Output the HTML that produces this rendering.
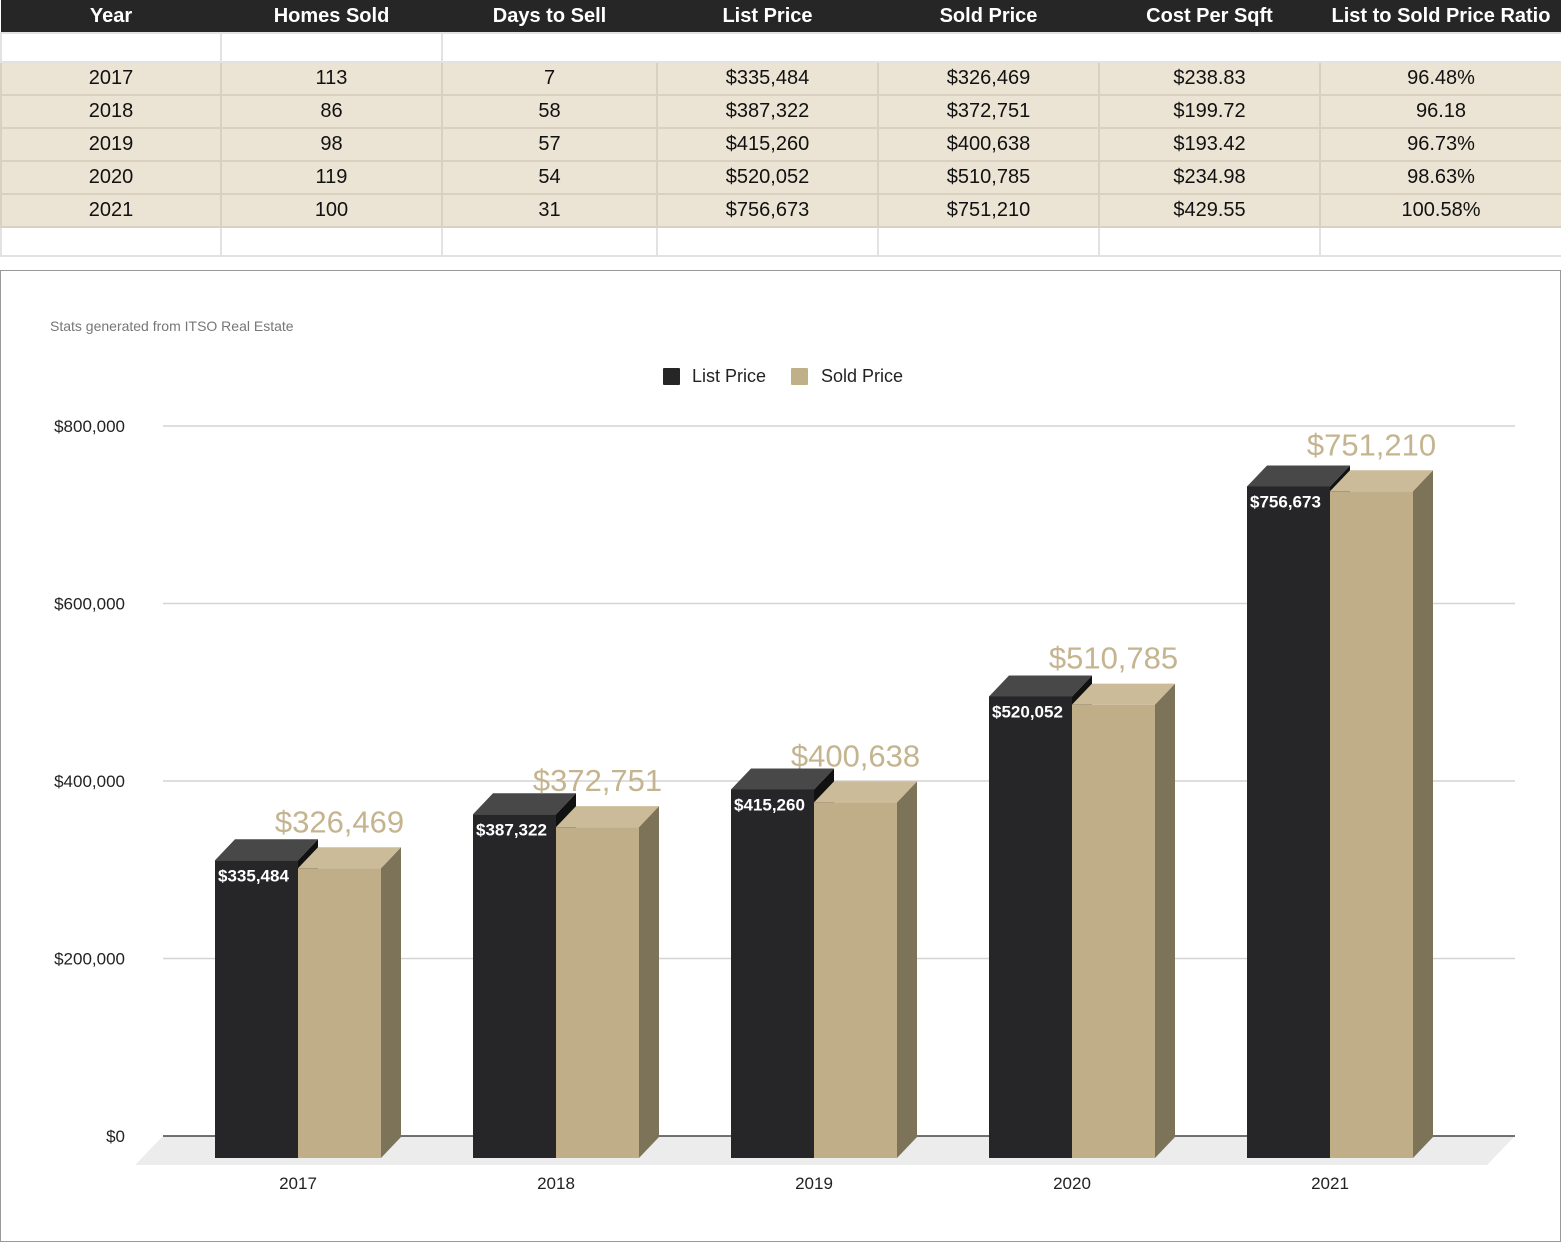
<!DOCTYPE html>
<html><head><meta charset="utf-8">
<style>
body{margin:0;width:1561px;height:1242px;background:#fff;font-family:"Liberation Sans",Arial,sans-serif;overflow:hidden;position:relative}
table{border-collapse:collapse;position:absolute;left:0;top:0;width:1561px;table-layout:fixed;font-family:"Liberation Sans Narrow","Liberation Sans",sans-serif}
th{background:#262626;color:#fff;font-weight:bold;font-size:20px;height:32px;padding:0;text-align:center}
td{font-size:20px;color:#111;text-align:center;padding:0;border:2px solid #d9d0bf;height:31px}
tr.d td{background:#ebe3d3;height:31px}
tr.e td{background:#fff;border-color:#e2e2e2;height:27px}
#chart{position:absolute;left:0;top:270px;width:1559px;height:970px;border:1px solid #999}
</style></head><body>
<table>
<colgroup><col style="width:220px"><col style="width:221px"><col style="width:215px"><col style="width:221px"><col style="width:221px"><col style="width:221px"><col style="width:242px"></colgroup>
<tr><th>Year</th><th>Homes Sold</th><th>Days to Sell</th><th>List Price</th><th>Sold Price</th><th>Cost Per Sqft</th><th>List to Sold Price Ratio</th></tr>
<tr class="e"><td></td><td></td><td colspan="5" style="border-right:none"></td></tr>
<tr class="d"><td>2017</td><td>113</td><td>7</td><td>$335,484</td><td>$326,469</td><td>$238.83</td><td>96.48%</td></tr>
<tr class="d"><td>2018</td><td>86</td><td>58</td><td>$387,322</td><td>$372,751</td><td>$199.72</td><td>96.18</td></tr>
<tr class="d"><td>2019</td><td>98</td><td>57</td><td>$415,260</td><td>$400,638</td><td>$193.42</td><td>96.73%</td></tr>
<tr class="d"><td>2020</td><td>119</td><td>54</td><td>$520,052</td><td>$510,785</td><td>$234.98</td><td>98.63%</td></tr>
<tr class="d"><td>2021</td><td>100</td><td>31</td><td>$756,673</td><td>$751,210</td><td>$429.55</td><td>100.58%</td></tr>
<tr class="e"><td></td><td></td><td></td><td></td><td></td><td></td><td></td></tr>
</table>
<div id="chart"></div>
<svg id="svg" width="1561" height="1242" style="position:absolute;left:0;top:0"></svg>
<script>
const years=["2017","2018","2019","2020","2021"];
const listPrices=[335484,387322,415260,520052,756673];
const soldPrices=[326469,372751,400638,510785,751210];
const ticks=[0,200000,400000,600000,800000];
const tickLabels=["$0","$200,000","$400,000","$600,000","$800,000"];

const NS="http://www.w3.org/2000/svg";
const svg=document.getElementById('svg');
const yBack=v=>1136-v*(710/800000);
const FRONT=22, DX=20, BW=83;
const xc=i=>298+i*258;
function mk(tag,attrs,text){const e=document.createElementNS(NS,tag);for(const k in attrs)e.setAttribute(k,attrs[k]);if(text!==undefined)e.textContent=text;svg.appendChild(e);return e;}
function fmt(v){return "$"+v.toLocaleString("en-US");}

let t=mk('text',{x:50,y:331,'font-size':14,fill:'#777'},'Stats generated from ITSO Real Estate');



// legend
let l1=mk('rect',{x:663,y:368,width:17,height:17,fill:'#262626',rx:1});


let l2=mk('text',{x:692,y:382,'font-size':18,fill:'#222'},'List Price');


let l3=mk('rect',{x:791,y:368,width:17,height:17,fill:'#c0b08a',rx:1});


let l4=mk('text',{x:821,y:382,'font-size':18,fill:'#222'},'Sold Price');



// floor
let fl=mk('polygon',{points:'163,1136 1515,1136 1487,1165 135,1165',fill:'#ececec'});



ticks.forEach((v,i)=>{
  const y=yBack(v);
  let g=mk('line',{x1:163,x2:1515,y1:y,y2:y,stroke:v===0?'#444':'#d4d4d4','stroke-width':v===0?1.5:1.5});
  
  
  let tl=mk('text',{x:125,y:y+6,'font-size':17,fill:'#222','text-anchor':'end'},tickLabels[i]);
  
  
});

function bar(x0,v,front,top,side,name){
  const yt=yBack(v)+FRONT, yb=1158;
  let s=mk('polygon',{points:`${x0+BW},${yt} ${x0+BW+DX},${yt-21} ${x0+BW+DX},${yb-21} ${x0+BW},${yb}`,fill:side});
  
  
  let tp=mk('polygon',{points:`${x0},${yt} ${x0+DX},${yt-21} ${x0+BW+DX},${yt-21} ${x0+BW},${yt}`,fill:top});
  
  
  let f=mk('rect',{x:x0,y:yt,width:BW,height:yb-yt,fill:front});
  
  
  return yt;
}
years.forEach((yr,i)=>{
  const c=xc(i);
  const ytL=bar(c-BW,listPrices[i],'#262628','#484848','#111','bar-list-'+yr);
  const ytS=bar(c,soldPrices[i],'#bfae87','#cbbb98','#7d7358','bar-sold-'+yr);
  let a=mk('text',{x:c-BW+3,y:ytL+21,'font-size':17,'font-weight':'bold',fill:'#fff'},fmt(listPrices[i]));
  
  
  let b=mk('text',{x:c+BW/2,y:ytS-36,'font-size':31,fill:'#c4b48f','text-anchor':'middle'},fmt(soldPrices[i]));
  
  
  let x=mk('text',{x:c,y:1189,'font-size':17,fill:'#222','text-anchor':'middle'},yr);
  
  
});
</script>
</body></html>
